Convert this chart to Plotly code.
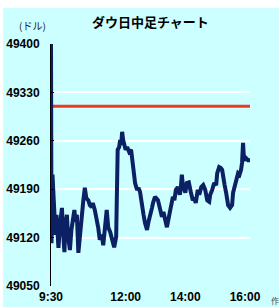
import plotly.graph_objects as go

# minutes since 9:30 open
minutes = [0, 1, 3, 6, 9, 11, 15, 18, 22, 24, 27, 29, 32, 34, 38, 41, 44, 47, 49, 52,
           55, 58, 62, 65, 68, 71, 75, 78, 82, 84, 88, 92, 95, 98, 102, 105, 109, 112, 115, 119,
           123, 127, 131, 134, 137, 139, 141, 143, 145, 147, 150, 153, 157, 161, 163, 165, 169, 173, 176, 179,
           183, 186, 189, 193, 196, 199, 203, 205, 209, 215, 219, 223, 226, 229, 233, 237, 241, 245, 248, 251,
           255, 259, 261, 263, 265, 267, 270, 273, 277, 281, 285, 288, 291, 295, 298, 302, 306, 310, 314, 318,
           320, 324, 328, 332, 334, 338, 341, 344, 346, 349, 352, 356, 360, 364, 366, 369, 372, 376, 379, 382,
           384, 386, 388, 392, 396, 400]
prices = [49400, 49112, 49211, 49150, 49124, 49153, 49105, 49138, 49163, 49131, 49099, 49138, 49153, 49124, 49102, 49131, 49146, 49160, 49143, 49153,
          49098, 49124, 49153, 49174, 49192, 49177, 49174, 49167, 49164, 49170, 49160, 49146, 49134, 49117, 49124, 49109, 49138, 49160, 49135, 49128,
          49117, 49106, 49121, 49247, 49251, 49261, 49254, 49273, 49261, 49257, 49247, 49251, 49244, 49247, 49235, 49218, 49199, 49189, 49192, 49186,
          49163, 49153, 49141, 49131, 49143, 49150, 49163, 49170, 49179, 49174, 49160, 49150, 49157, 49146, 49135, 49150, 49163, 49179, 49174, 49189,
          49193, 49182, 49192, 49211, 49196, 49192, 49185, 49199, 49200, 49186, 49174, 49177, 49170, 49189, 49182, 49193, 49196, 49189, 49174, 49172,
          49182, 49189, 49199, 49196, 49213, 49222, 49221, 49218, 49206, 49196, 49185, 49167, 49163, 49167, 49185, 49192, 49203, 49213, 49211, 49218,
          49228, 49257, 49232, 49235, 49232, 49232]
prev_close = 49310

x_tickvals = [0, 150, 270, 390]
x_ticktext = ["9:30", "12:00", "14:00", "16:00"]
y_tickvals = [49050, 49120, 49190, 49260, 49330, 49400]

CYAN = "#CCFFFF"
NAVY = "#0B2163"
RED = "#EE3A1C"

fig = go.Figure()
fig.add_trace(go.Scatter(x=[0, 400], y=[prev_close, prev_close], mode="lines",
                         line=dict(color=RED, width=3), hoverinfo="skip"))
fig.add_trace(go.Scatter(x=minutes, y=prices, mode="lines",
                         line=dict(color=NAVY, width=4, shape="linear")))

fig.add_shape(type="rect", xref="paper", yref="paper",
              x0=-0.2412, x1=1.2, y0=-0.2, y1=1.1488,
              fillcolor=CYAN, line=dict(width=0), layer="below")

fig.add_annotation(text="ダウ日中足チャート", xref="paper", yref="paper", x=0.5, y=1.091,
                   xanchor="center", yanchor="middle", showarrow=False,
                   font=dict(family="Noto Sans CJK JP", size=13, color="#000000", weight="bold"))
fig.add_annotation(text="(ドル)", xref="paper", yref="paper", x=-0.0905, y=1.0785,
                   xanchor="center", yanchor="middle", showarrow=False,
                   font=dict(family="Noto Sans CJK JP", size=10, color="#222222"))
fig.add_annotation(text="作", xref="paper", yref="paper", x=1.0955, y=-0.058,
                   xanchor="left", yanchor="middle", showarrow=False,
                   font=dict(family="Noto Sans CJK JP", size=8, color="#444444"))

fig.update_layout(
    width=279, height=307,
    margin=dict(l=51, r=29, t=44, b=21, pad=0, autoexpand=False),
    paper_bgcolor="#FFFFFF", plot_bgcolor=CYAN,
    showlegend=False,
)
fig.update_xaxes(range=[0, 400], tickvals=x_tickvals, ticktext=x_ticktext,
                 showgrid=False, showline=False, zeroline=False, ticks="",
                 automargin=False, ticklabelstandoff=2,
                 tickfont=dict(family="Liberation Sans", size=12, color="#000000", weight="bold"))
fig.update_yaxes(range=[49050, 49400], tickvals=y_tickvals, tickformat="d",
                 showgrid=True, gridcolor="#FFFFFF", gridwidth=2,
                 showline=True, linecolor="#000000", linewidth=1,
                 ticks="inside", ticklen=3, tickcolor="#000000", tickwidth=1,
                 zeroline=False, ticklabelstandoff=8, automargin=False,
                 tickfont=dict(family="Liberation Sans", size=12, color="#000000", weight="bold"))

fig.write_html("out.html", config={"displayModeBar": False},
               post_script="document.body.style.margin='0';document.body.style.overflow='hidden';")
